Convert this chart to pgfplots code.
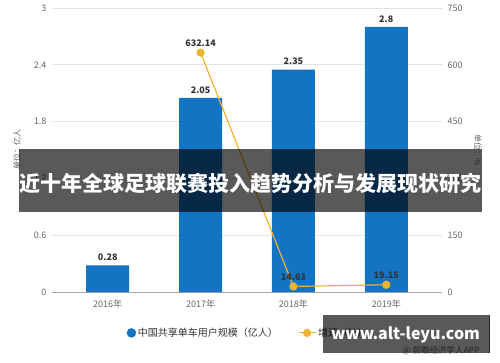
\documentclass[border=0pt]{standalone}
\usepackage{fontspec}
\setmainfont{Noto Sans CJK SC}
\usepackage{pgfplots}
\pgfplotsset{compat=1.18}
\definecolor{barblue}{HTML}{1474C4}
\definecolor{lineor}{HTML}{EFB330}
\definecolor{tickgray}{HTML}{666666}
\definecolor{gridgray}{HTML}{E3E3E3}
\definecolor{lblgray}{HTML}{333333}
\begin{document}
\begin{tikzpicture}[x=1pt,y=1pt]
\useasboundingbox (0,0) rectangle (500,362);
\begin{axis}[
  at={(52pt,70pt)}, anchor=south west, scale only axis,
  width=390pt, height=284pt,
  xmin=-0.6, xmax=3.6, ymin=0, ymax=3,
  axis x line*=bottom, axis y line*=left,
  x axis line style={draw=gray!70, -},
  y axis line style={draw=none},
  ytick={0,0.6,1.2,1.8,2.4,3},
  yticklabels={0,0.6,1.2,1.8,2.4,3},
  xtick={0,1,2,3},
  xticklabels={2016年,2017年,2018年,2019年},
  major tick length=0pt,
  ymajorgrids, grid style={gridgray, line width=0.8pt},
  tick label style={font=\fontsize{9}{10}\selectfont, text=tickgray},
  xticklabel style={yshift=-4pt},
  yticklabel style={xshift=-2pt},
  /pgf/number format/assume math mode=true,
]
\addplot[ybar, bar width=43pt, fill=barblue, draw=none,
  nodes near coords,
  nodes near coords style={font=\bfseries\fontsize{9}{10}\selectfont, text=lblgray, yshift=1pt}]
  coordinates {(0,0.28) (1,2.05) (2,2.35) (3,2.8)};
\end{axis}
\begin{axis}[
  at={(52pt,70pt)}, anchor=south west, scale only axis,
  width=390pt, height=284pt,
  xmin=-0.6, xmax=3.6, ymin=0, ymax=750,
  axis x line=none, axis y line*=right,
  y axis line style={draw=none},
  ytick={0,150,300,450,600,750},
  major tick length=0pt,
  tick label style={font=\fontsize{9}{10}\selectfont, text=tickgray},
  yticklabel style={xshift=2pt},
  /pgf/number format/assume math mode=true,
  legend style={at={(0.503,-0.144)}, anchor=center, draw=none, fill=none,
    legend columns=2, font=\fontsize{10}{11}\selectfont, text=lblgray,
    /tikz/every even column/.append style={column sep=18pt}},
]
\addlegendimage{only marks, mark=*, mark size=4.5pt, color=barblue}
\addplot[lineor, line width=1.2pt, sharp plot, mark=*, mark size=3.5pt,
  mark options={fill=lineor, draw=lineor},
  nodes near coords,
  nodes near coords style={font=\bfseries\fontsize{9}{10}\selectfont, text=lblgray, yshift=2pt}]
  coordinates {(1,632.14) (2,14.63) (3,19.15)};
\legend{中国共享单车用户规模（亿人）, 增速（\%）}
\end{axis}
\node[rotate=90, font=\fontsize{8}{9}\selectfont, text=tickgray] at (17,212) {单位：亿人};
\node[rotate=-90, font=\fontsize{8}{9}\selectfont, text=tickgray] at (478,212) {单位：\%};
\fill[black, opacity=0.65] (19,150) rectangle (482,213);
\node[text=white, font=\bfseries\fontsize{21}{24}\selectfont] at (250.5,178.5) {近十年全球足球联赛投入趋势分析与发展现状研究};
\node[text=tickgray, font=\fontsize{8.5}{9}\selectfont, anchor=east] at (483,11) {@ 前瞻经济学人APP};
\fill[black, opacity=0.65] (323,9) rectangle (490,47);
\draw[black!85, line width=1pt] (489.5,9) -- (489.5,47);
\node[text=white, font=\bfseries\fontsize{16}{19}\selectfont] at (405.5,27.5) {www.alt-leyu.com};
\end{tikzpicture}
\end{document}
